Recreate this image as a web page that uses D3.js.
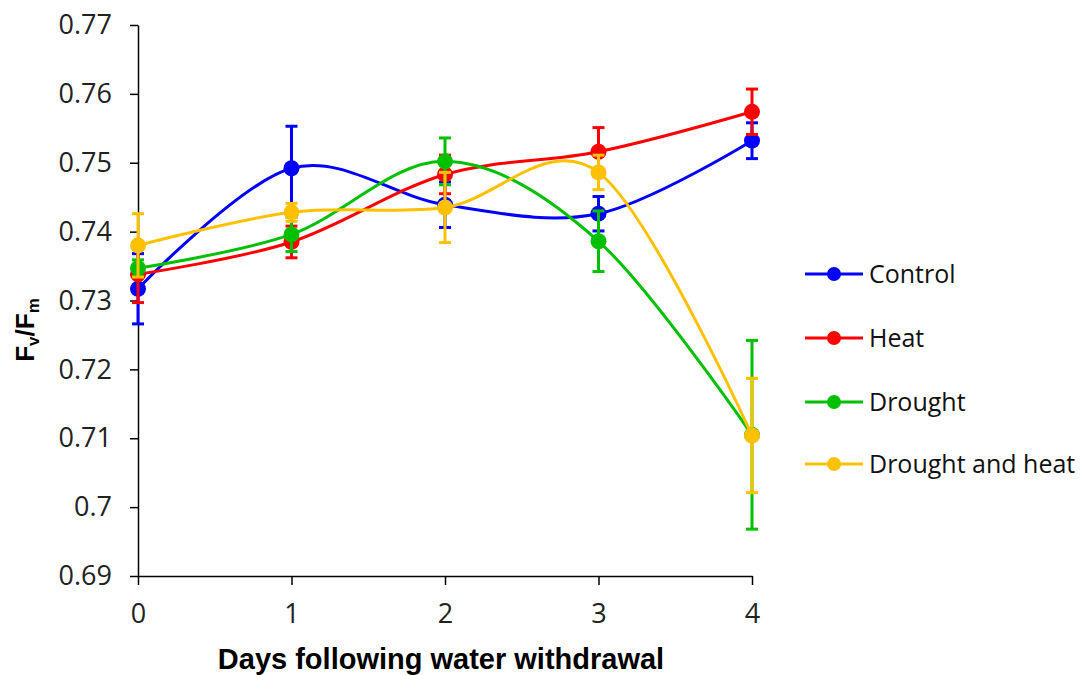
<!DOCTYPE html>
<html>
<head>
<meta charset="utf-8">
<script src="https://cdn.jsdelivr.net/npm/d3@7"></script>
<style>
  body { margin: 0; background: #fff; }
  svg { display: block; }
</style>
</head>
<body>
<svg width="1084" height="675"></svg>
<script>
// days on the x axis
var days = [0, 1, 2, 3, 4];
var yTicks = [0.69, 0.70, 0.71, 0.72, 0.73, 0.74, 0.75, 0.76, 0.77];

// series means and error (+/-)
var seriesNames = ["Control", "Heat", "Drought", "Drought and heat"];
var seriesColors = ["#0000ff", "#ff0000", "#00c000", "#ffc000"];
var controlVals = [0.7317, 0.7492, 0.7439, 0.7426, 0.7532];
var controlErr = [0.0051, 0.0061, 0.0033, 0.0025, 0.0026];
var heatVals = [0.7338, 0.7385, 0.7483, 0.7516, 0.7574];
var heatErr = [0.0041, 0.0023, 0.0028, 0.0035, 0.0033];
var droughtVals = [0.7347, 0.7396, 0.7502, 0.7386, 0.7105];
var droughtErr = [0.0012, 0.0025, 0.0034, 0.0044, 0.0137];
var dhVals = [0.7380, 0.7428, 0.7435, 0.7486, 0.7104];
var dhErr = [0.0046, 0.0013, 0.0051, 0.0025, 0.0083];

var allVals = [controlVals, heatVals, droughtVals, dhVals];
var allErr = [controlErr, heatErr, droughtErr, dhErr];

var svg = d3.select("svg");

var x = d3.scaleLinear().domain([0, 4]).range([138, 752]);
var y = d3.scaleLinear().domain([0.69, 0.77]).range([576, 25]);

var tickFont = "'Open Sans', sans-serif";

// y axis
var yAxis = svg.append("g")
    .attr("transform", "translate(138,0)")
    .call(d3.axisLeft(y).tickValues(yTicks).tickSize(8).tickSizeOuter(0)
        .tickFormat(function(d) { return String(+d.toFixed(2)); }));
yAxis.select(".domain").attr("stroke", "#000").attr("stroke-width", 1.5);
yAxis.selectAll(".tick line").attr("stroke", "#000").attr("stroke-width", 1.5);
yAxis.selectAll(".tick text")
    .attr("x", -26)
    .attr("fill", "#222")
    .style("font-family", tickFont)
    .style("font-size", "27px");

// x axis
var xAxis = svg.append("g")
    .attr("transform", "translate(0,576)")
    .call(d3.axisBottom(x).tickValues(days).tickSize(9).tickSizeOuter(0)
        .tickFormat(function(d) { return String(d); }));
xAxis.select(".domain").attr("stroke", "#000").attr("stroke-width", 1.5);
xAxis.selectAll(".tick line").attr("stroke", "#000").attr("stroke-width", 1.5);
xAxis.selectAll(".tick text")
    .attr("y", 28)
    .attr("fill", "#222")
    .style("font-family", tickFont)
    .style("font-size", "27px");

// axis titles
svg.append("text")
    .attr("x", 441).attr("y", 669)
    .attr("text-anchor", "middle")
    .style("font-family", "'Liberation Sans', Arial, sans-serif")
    .style("font-weight", "bold")
    .style("font-size", "29px")
    .text("Days following water withdrawal");

var yTitle = svg.append("text")
    .attr("transform", "translate(34,330) rotate(-90)")
    .attr("text-anchor", "middle")
    .style("font-family", "'Liberation Sans', Arial, sans-serif")
    .style("font-weight", "bold")
    .style("font-size", "26px");
yTitle.append("tspan").text("F");
yTitle.append("tspan").attr("dy", 5).style("font-size", "17px").text("v");
yTitle.append("tspan").attr("dy", -5).text("/F");
yTitle.append("tspan").attr("dy", 5).style("font-size", "17px").text("m");

var line = d3.line()
    .x(function(d, i) { return x(days[i]); })
    .y(function(d) { return y(d); })
    .curve(d3.curveCatmullRom.alpha(0));

// each series: error bars, smoothed line, markers
allVals.forEach(function(vals, s) {
    var color = seriesColors[s];
    var g = svg.append("g");
    var errs = allErr[s];

    g.selectAll(".err")
        .data(vals)
        .enter().append("line")
        .attr("x1", function(d, i) { return x(days[i]); })
        .attr("x2", function(d, i) { return x(days[i]); })
        .attr("y1", function(d, i) { return y(d - errs[i]); })
        .attr("y2", function(d, i) { return y(d + errs[i]); })
        .attr("stroke", color).attr("stroke-width", 3);

    [1, -1].forEach(function(sign) {
        g.selectAll(".cap" + sign)
            .data(vals)
            .enter().append("line")
            .attr("x1", function(d, i) { return x(days[i]) - 6; })
            .attr("x2", function(d, i) { return x(days[i]) + 6; })
            .attr("y1", function(d, i) { return y(d + sign * errs[i]); })
            .attr("y2", function(d, i) { return y(d + sign * errs[i]); })
            .attr("stroke", color).attr("stroke-width", 3);
    });

    g.append("path")
        .attr("d", line(vals))
        .attr("fill", "none")
        .attr("stroke", color)
        .attr("stroke-width", 3);

    g.selectAll("circle")
        .data(vals)
        .enter().append("circle")
        .attr("cx", function(d, i) { return x(days[i]); })
        .attr("cy", function(d) { return y(d); })
        .attr("r", 8)
        .attr("fill", color);
});

// legend
var legendY = [274, 338, 402, 464];
var legend = svg.selectAll(".legend")
    .data(seriesNames)
    .enter().append("g")
    .attr("transform", function(d, i) { return "translate(805," + legendY[i] + ")"; });
legend.append("line")
    .attr("x1", 0).attr("x2", 58)
    .attr("stroke", function(d, i) { return seriesColors[i]; })
    .attr("stroke-width", 3);
legend.append("circle")
    .attr("cx", 29).attr("r", 7)
    .attr("fill", function(d, i) { return seriesColors[i]; });
legend.append("text")
    .attr("x", 64).attr("dy", "0.35em")
    .attr("fill", "#111")
    .style("font-family", tickFont)
    .style("font-size", "25px")
    .text(function(d) { return d; });
</script>
</body>
</html>
